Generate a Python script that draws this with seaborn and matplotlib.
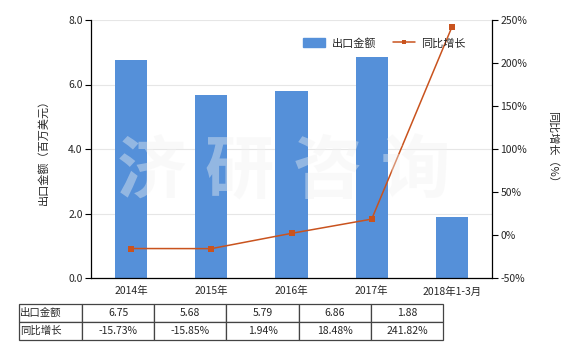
import numpy as np
import pandas as pd
import matplotlib
matplotlib.use("Agg")
import matplotlib.pyplot as plt
import seaborn as sns

categories = ["2014年", "2015年", "2016年", "2017年", "2018年1-3月"]
export_values = [6.75, 5.68, 5.79, 6.86, 1.88]
growth_pct = [-15.73, -15.85, 1.94, 18.48, 241.82]
export_labels = ["6.75", "5.68", "5.79", "6.86", "1.88"]
growth_labels = ["-15.73%", "-15.85%", "1.94%", "18.48%", "241.82%"]
watermark = "济研咨询"

sns.set_theme(style="white")
plt.rcParams['font.family'] = ['Noto Sans CJK SC', 'DejaVu Sans']
plt.rcParams['axes.unicode_minus'] = False

BAR = "#5590D9"
LINE = "#C9531E"

fig = plt.figure(figsize=(5.8, 3.5), dpi=100)
W, H = 580, 350
ax = fig.add_axes([91 / W, 1 - 278 / H, (492 - 91) / W, (278 - 20) / H])

df = pd.DataFrame({"cat": categories, "val": export_values, "pos": np.arange(len(categories)), "g": growth_pct})
sns.barplot(data=df, x="cat", y="val", color=BAR, width=0.40, ax=ax, saturation=1, zorder=2, linewidth=0)
ax.set_ylim(0, 8)
ax.set_yticks([0, 2, 4, 6, 8])
ax.set_yticklabels(["0.0", "2.0", "4.0", "6.0", "8.0"], fontsize=7.5)
ax.set_xlim(-0.5, 4.5)
ax.set_xlabel("")
ax.set_ylabel("出口金额（百万美元）", fontsize=8, labelpad=14)
ax.yaxis.grid(True, color="#e6e6e6", linewidth=0.8, zorder=0)
ax.set_axisbelow(True)
ax.tick_params(axis="x", labelsize=7.5, length=0, pad=6)
ax.tick_params(axis="y", length=4, width=0.8, color="black", pad=2, left=True)
for s in ["top", "right"]:
    ax.spines[s].set_visible(False)
for s in ["left", "bottom"]:
    ax.spines[s].set_color("black")
    ax.spines[s].set_linewidth(0.9)

ax2 = ax.twinx()
sns.lineplot(data=df, x="pos", y="g", color=LINE, marker="s", markersize=5,
             markeredgewidth=0, linewidth=1.1, ax=ax2, zorder=3)
ax2.set_ylim(-50, 250)
ax2.set_yticks([-50, 0, 50, 100, 150, 200, 250])
ax2.set_yticklabels(["-50%", "0%", "50%", "100%", "150%", "200%", "250%"], fontsize=7.5)
ax2.set_ylabel("同比增长（%）", fontsize=8, rotation=-90, labelpad=22)
ax2.set_xlabel("")
ax2.tick_params(axis="y", length=4, width=0.8, color="black", pad=2, right=True)
for s in ["top", "left", "bottom"]:
    ax2.spines[s].set_visible(False)
ax2.spines["right"].set_color("black")
ax2.spines["right"].set_linewidth(0.9)
ax2.grid(False)
ax.set_xlim(-0.5, 4.5)

# legend
from matplotlib.patches import Patch
from matplotlib.lines import Line2D
handles = [Patch(color=BAR, label="出口金额"),
           Line2D([0], [0], color=LINE, marker="s", markersize=3.5, markeredgewidth=0, lw=1.1, label="同比增长")]
ax2.legend(handles=handles, loc="upper right", bbox_to_anchor=(0.96, 0.97), ncol=2, frameon=False,
           fontsize=8, handlelength=2.0, handleheight=0.9, columnspacing=1.5, handletextpad=0.6)

# watermark (semi-transparent, above the bars)
for i, ch in enumerate(watermark):
    fig.text((151 + 88 * i) / W, 1 - 173 / H, ch, fontsize=50, color="#f2f2f2", alpha=0.4,
             ha="center", va="center", fontweight="bold", zorder=10)

# table
tx0, tx1 = 19 / W, 443 / W
ty0, ty1 = 1 - 340 / H, 1 - 304 / H
tax = fig.add_axes([tx0, ty0, tx1 - tx0, ty1 - ty0])
tax.axis("off")
cell_text = [["出口金额"] + export_labels, ["同比增长"] + growth_labels]
first = 63
other = 72
total = first + other * 5
tbl = tax.table(cellText=cell_text, colWidths=[first / total] + [other / total] * 5,
                bbox=[0, 0, 1, 1], cellLoc="center")
tbl.auto_set_font_size(False)
tbl.set_fontsize(7.5)
for (r, c), cell in tbl.get_celld().items():
    cell.set_edgecolor("#444444")
    cell.set_linewidth(0.9)
    if c == 0:
        cell.set_text_props(ha="left")
        cell.PAD = 0.02

fig.savefig("out.png", dpi=100)
